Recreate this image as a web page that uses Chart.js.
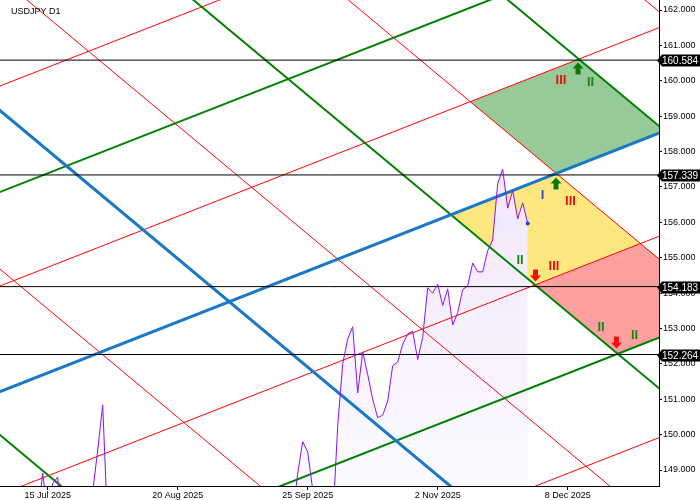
<!DOCTYPE html>
<html>
<head>
<meta charset="utf-8">
<script src="https://cdn.jsdelivr.net/npm/chart.js@4.4.1/dist/chart.umd.min.js"></script>
<style>html,body{margin:0;padding:0;background:#fff;}canvas{display:block;}</style>
</head>
<body>
<canvas id="c" width="700" height="500"></canvas>
<script>
// ---------- DATA ----------
const chartTitle = 'USDJPY D1';
const xTickBars = [0, 26, 52, 78, 104];
const xTickLabels = ['15 Jul 2025', '20 Aug 2025', '25 Sep 2025', '2 Nov 2025', '8 Dec 2025'];
const yTicks = [149, 150, 151, 152, 153, 154, 155, 156, 157, 158, 159, 160, 161, 162];
const xRange = [-9.54, 122.26];
const yRange = [148.548, 162.283];

const firstBar = -10;
const closes = [
  143.8, 144.9, 144.5, 146.1, 146.6, 146.3, 146.2, 147.4, 147.7, 148.91,
  147.8, 148.62, 148.80, 147.0, 146.9, 146.5, 146.9, 147.6, 148.3, 148.38,
  149.56, 150.84, 147.39, 147.1, 147.6, 147.4, 147.1, 147.7, 148.2, 148.1,
  147.4, 147.7, 147.2, 147.8, 147.7, 147.3, 148.4, 146.9, 147.7, 147.4,
  147.4, 146.9, 147.0, 147.1, 148.3, 148.1, 148.4, 147.4, 147.5, 147.4,
  147.4, 147.2, 147.7, 147.4, 146.5, 146.9, 148.0, 148.0, 147.7, 147.7,
  148.9, 149.80, 149.51, 148.44, 147.9, 147.1, 147.3, 147.5, 150.25, 152.0,
  152.7, 153.05, 151.18, 152.34, 151.7, 151.0, 150.48, 150.55, 150.95, 151.95,
  152.05, 152.55, 152.85, 152.92, 152.12, 152.75, 154.15, 154.0, 154.25, 153.65,
  154.12, 153.1, 153.45, 154.1, 154.2, 154.85, 154.6, 154.6, 155.2, 155.5,
  157.1, 157.5, 156.4, 156.9, 156.1, 156.55, 155.97
];

const levels = [160.584, 157.339, 154.183, 152.264];

// trend lines: [bar1, price1, bar2, price2]
const redRising = [
  [-22, 159.162, 135, 167.858],
  [-22, 153.510, 135, 162.206],
  [-22, 147.615, 135, 156.311],
  [-22, 141.923, 135, 150.620]
];
const redFalling = [
  [-22, 178.954, 135, 160.451],
  [-22, 171.962, 135, 153.460],
  [-22, 164.388, 135, 145.886],
  [-22, 156.147, 135, 137.645]
];
const greenRising = [
  [-22, 156.166, 135, 164.863],
  [-22, 144.749, 135, 153.446]
];
const greenFalling = [
  [-22, 175.723, 135, 157.222],
  [-22, 168.311, 135, 149.810],
  [-22, 151.456, 135, 132.956]
];
const blueRising = [[-22, 150.528, 135, 159.225]];
const blueFalling = [[-22, 160.628, 135, 142.127]];

// zones bounded by two rising and two falling lines
const zoneGreen  = [redRising[1], blueRising[0], redFalling[1], greenFalling[0]];
const zoneYellow = [blueRising[0], redRising[2], greenFalling[1], redFalling[1]];
const zoneRed    = [redRising[2], greenRising[1], greenFalling[1], redFalling[1]];

// wave marks
const markText   = ['III', 'II', 'I', 'III', 'II', 'III', 'II', 'II'];
const markBars   = [102.66, 108.56, 98.96, 104.56, 94.46, 101.26, 110.66, 117.36];
const markPrices = [160.02, 159.94, 156.77, 156.60, 154.91, 154.76, 153.04, 152.81];
const arrowDir    = ['up', 'up', 'down', 'down'];
const arrowBars   = [106.06, 101.66, 97.56, 113.76];
const arrowPrices = [160.333, 157.083, 154.511, 152.617];

// ---------- STYLES ----------
const FONT = '"Liberation Sans", Arial, sans-serif';
const C_RED = '#ff0000', C_GREEN = '#008000', C_BLUE = '#1a78c8', C_PRICE = '#8a10f0';
const markColors = { 'I': '#2a4fd0', 'II': '#148a14', 'III': '#e01010' };
const arrowColors = { up: '#0a7a0a', down: '#f01010' };

// ---------- BUILD ----------
function intersect(a, b) {
  const [x1, y1, x2, y2] = a, [x3, y3, x4, y4] = b;
  const d = (x1 - x2) * (y3 - y4) - (y1 - y2) * (x3 - x4);
  const t = ((x1 - x3) * (y3 - y4) - (y1 - y3) * (x3 - x4)) / d;
  return { x: x1 + t * (x2 - x1), y: y1 + t * (y2 - y1) };
}
function zonePoints(z) {
  const [r1, r2, f1, f2] = z;
  const p = [intersect(r1, f1), intersect(r1, f2), intersect(r2, f2), intersect(r2, f1)];
  p.push(p[0]);
  return p;
}
const pricePts = closes.map((v, i) => ({ x: firstBar + i, y: v }));
function lineDs(seg, color, width, order) {
  return {
    data: [{ x: seg[0], y: seg[1] }, { x: seg[2], y: seg[3] }],
    borderColor: color, borderWidth: width, pointRadius: 0, fill: false,
    tension: 0, order: order, clip: 0
  };
}
function zoneDs(z, color) {
  return {
    data: zonePoints(z), borderWidth: 0, borderColor: 'rgba(0,0,0,0)',
    backgroundColor: color, fill: 'shape', pointRadius: 0, tension: 0, order: 100, clip: 0
  };
}

const datasets = [];
datasets.push(zoneDs(zoneGreen, '#96ca98'));
datasets.push(zoneDs(zoneYellow, '#ffe780'));
datasets.push(zoneDs(zoneRed, '#ffa0a0'));
datasets.push({
  data: pricePts, borderWidth: 0, borderColor: 'rgba(0,0,0,0)', pointRadius: 0,
  fill: 'start', tension: 0, order: 90, clip: 0,
  backgroundColor: (ctx) => {
    const ch = ctx.chart, area = ch.chartArea;
    if (!area) return '#f3eafc';
    const g = ch.ctx.createLinearGradient(0, area.top + 150, 0, area.bottom);
    g.addColorStop(0, '#f1e5fc');
    g.addColorStop(1, '#fcfaff');
    return g;
  }
});
redRising.forEach(s => datasets.push(lineDs(s, C_RED, 1, 20)));
redFalling.forEach(s => datasets.push(lineDs(s, C_RED, 1, 20)));
greenRising.forEach(s => datasets.push(lineDs(s, C_GREEN, 2, 15)));
greenFalling.forEach(s => datasets.push(lineDs(s, C_GREEN, 2, 15)));
blueRising.forEach(s => datasets.push(lineDs(s, C_BLUE, 3, 12)));
blueFalling.forEach(s => datasets.push(lineDs(s, C_BLUE, 3, 12)));
levels.forEach(v => datasets.push(lineDs([-22, v, 135, v], '#000', 1, 8)));
datasets.push({
  data: pricePts, borderColor: C_PRICE, borderWidth: 1, pointRadius: 0,
  fill: false, tension: 0, order: 2, clip: 0
});
datasets.push({
  data: [pricePts[pricePts.length - 1]], showLine: false, pointRadius: 2,
  pointHoverRadius: 2, pointBackgroundColor: '#2040e0', pointBorderWidth: 0, order: 1
});

const overlay = {
  id: 'overlay',
  afterDraw(chart) {
    const ctx = chart.ctx, xs = chart.scales.x, ys = chart.scales.y, area = chart.chartArea;
    ctx.save();
    // title
    ctx.fillStyle = '#000';
    ctx.font = '9px ' + FONT;
    ctx.textAlign = 'left'; ctx.textBaseline = 'alphabetic';
    ctx.fillText(chartTitle, area.left + 11, area.top + 14);
    // wave marks
    ctx.font = 'bold 13px ' + FONT;
    ctx.textAlign = 'center'; ctx.textBaseline = 'middle';
    markText.forEach((t, i) => {
      ctx.fillStyle = markColors[t];
      ctx.fillText(t, xs.getPixelForValue(markBars[i]), ys.getPixelForValue(markPrices[i]));
    });
    // arrows
    arrowDir.forEach((d, i) => {
      const x = xs.getPixelForValue(arrowBars[i]), y = ys.getPixelForValue(arrowPrices[i]);
      const s = d === 'up' ? -1 : 1;
      ctx.fillStyle = arrowColors[d];
      ctx.beginPath();
      ctx.moveTo(x, y + s * 6.5);
      ctx.lineTo(x - 5.5, y + s * 0.5);
      ctx.lineTo(x - 2.5, y + s * 0.5);
      ctx.lineTo(x - 2.5, y - s * 5.5);
      ctx.lineTo(x + 2.5, y - s * 5.5);
      ctx.lineTo(x + 2.5, y + s * 0.5);
      ctx.lineTo(x + 5.5, y + s * 0.5);
      ctx.closePath();
      ctx.fill();
    });
    // level price boxes on the axis
    ctx.font = '10px ' + FONT;
    ctx.textAlign = 'left'; ctx.textBaseline = 'middle';
    levels.forEach(v => {
      const y = Math.round(ys.getPixelForValue(v)) + 0.5;
      const r = area.right;
      ctx.fillStyle = '#000';
      ctx.beginPath();
      ctx.moveTo(r - 2, y);
      ctx.lineTo(r + 3, y - 6);
      ctx.lineTo(r + 41, y - 6);
      ctx.lineTo(r + 41, y + 6);
      ctx.lineTo(r + 3, y + 6);
      ctx.closePath();
      ctx.fill();
      ctx.fillStyle = '#fff';
      ctx.fillText(v.toFixed(3), r + 3, y + 0.5);
    });
    ctx.restore();
  }
};

Chart.defaults.font.family = FONT;
Chart.defaults.font.size = 9;
Chart.defaults.color = '#000';

new Chart(document.getElementById('c'), {
  type: 'line',
  data: { datasets },
  options: {
    responsive: false, animation: false, devicePixelRatio: 1, events: [],
    layout: { padding: 0, autoPadding: false },
    plugins: { legend: { display: false }, tooltip: { enabled: false }, title: { display: false } },
    scales: {
      x: {
        type: 'linear', min: xRange[0], max: xRange[1],
        grid: { drawOnChartArea: false, drawTicks: true, tickLength: 4, color: '#000' },
        border: { display: true, color: '#000', width: 1 },
        ticks: {
          padding: 0, maxRotation: 0, autoSkip: false, color: '#000', font: { size: 9 },
          callback: (v) => { const i = xTickBars.indexOf(v); return i >= 0 ? xTickLabels[i] : ''; }
        },
        afterBuildTicks: (s) => { s.ticks = xTickBars.map(v => ({ value: v })); },
        afterFit: (s) => { s.height = 14; s.paddingLeft = 0; s.paddingRight = 0; }
      },
      y: {
        type: 'linear', position: 'right', min: yRange[0], max: yRange[1],
        grid: { drawOnChartArea: false, drawTicks: true, tickLength: 3, color: '#000' },
        border: { display: true, color: '#000', width: 1 },
        ticks: {
          padding: 1, color: '#000', font: { size: 9 },
          callback: (v) => Number(v).toFixed(3)
        },
        afterBuildTicks: (s) => { s.ticks = yTicks.map(v => ({ value: v })); },
        afterFit: (s) => { s.width = 41; s.paddingTop = 0; s.paddingBottom = 0; }
      }
    }
  },
  plugins: [overlay]
});
</script>
</body>
</html>
